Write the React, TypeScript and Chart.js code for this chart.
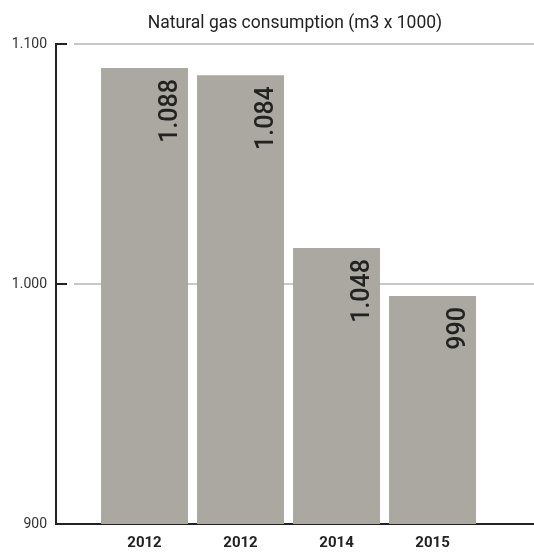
import React, { useEffect, useRef } from "react";
import { Chart, registerables } from "chart.js";

Chart.register(...registerables);

const categories = ["2012", "2012", "2014", "2015"];
const barValues = [1090, 1087, 1015, 995];
const valueLabels = ["1.088", "1.084", "1.048", "990"];
const yTicks = [900, 1000, 1100];
const title = "Natural gas consumption (m3 x 1000)";

const fmt = (v: number) => String(v).replace(/\B(?=(\d{3})+(?!\d))/g, ".");

const FONT = "Roboto";

const labelPlugin = {
  id: "valueLabels",
  afterDraw(chart: any) {
    const meta = chart.getDatasetMeta(0);
    const ctx = chart.ctx;
    ctx.save();
    ctx.fillStyle = "#222";
    ctx.font = `500 25px ${FONT}`;
    ctx.textAlign = "right";
    ctx.textBaseline = "alphabetic";
    meta.data.forEach((bar: any, i: number) => {
      const x = bar.x + bar.width / 2 - 11;
      const y = bar.y + 11;
      ctx.save();
      ctx.translate(x, y);
      ctx.rotate(-Math.PI / 2);
      ctx.fillText(valueLabels[i], 0, 0);
      ctx.restore();
    });
    ctx.restore();
  },
};

export default function App() {
  const ref = useRef<HTMLCanvasElement>(null);
  useEffect(() => {
    if (!ref.current) return;
    const chart = new Chart(ref.current, {
      type: "bar",
      data: {
        datasets: [
          {
            data: barValues.map((v, i) => ({ x: i, y: v })),
            backgroundColor: "#aba7a1",
            borderWidth: 0,
            categoryPercentage: 1,
            barPercentage: 0.906,
          },
        ],
      },
      options: {
        animation: false,
        responsive: false,
        layout: { padding: 0 },
        plugins: {
          legend: { display: false },
          tooltip: { enabled: false },
          title: {
            display: true,
            text: title,
            fullSize: false,
            color: "#222",
            font: { family: FONT, size: 17.5, weight: "normal", lineHeight: 1.2 },
            padding: { top: 13, bottom: 10 },
          },
        },
        scales: {
          x: {
            type: "linear",
            position: "bottom",
            min: -0.922,
            max: 4.057,
            offset: false,
            z: 1,
            grid: { display: false, drawTicks: false, offset: false },
            border: { display: true, color: "#222", width: 2 },
            ticks: {
              autoSkip: false,
              maxRotation: 0,
              padding: 10,
              color: "#222",
              font: { family: FONT, size: 15, weight: "bold" },
              callback: (v: any) => categories[v as number] ?? "",
            },
            afterBuildTicks: (scale: any) => {
              scale.ticks = categories.map((_, i) => ({ value: i }));
            },
            afterFit: (scale: any) => {
              scale.height = 29;
            },
          },
          y: {
            type: "linear",
            min: 900,
            max: 1100,
            z: 1,
            grid: {
              lineWidth: 2,
              color: (c: any) => (c.tick && c.tick.value === 900 ? "rgba(0,0,0,0)" : "#c8c8c8"),
              tickColor: (c: any) => (c.tick && c.tick.value === 900 ? "rgba(0,0,0,0)" : "#222"),
              tickWidth: 2,
              tickLength: -11,
              drawTicks: true,
            },
            border: { display: true, color: "#222", width: 2, dash: [3000, 17], dashOffset: 3000 },
            ticks: {
              padding: 20,
              color: "#333",
              font: { family: FONT, size: 14, weight: "normal" },
              callback: (v: any) => fmt(v as number),
            },
            afterBuildTicks: (scale: any) => {
              scale.ticks = yTicks.map((v) => ({ value: v }));
            },
            afterFit: (scale: any) => {
              scale.width = 56;
            },
          },
        },
      },
      plugins: [labelPlugin],
    } as any);
    return () => chart.destroy();
  }, []);
  return (
    <div style={{ position: "absolute", left: 0, top: 0, width: 534, height: 553, background: "#fff" }}>
      <canvas ref={ref} width={534} height={553} />
    </div>
  );
}
